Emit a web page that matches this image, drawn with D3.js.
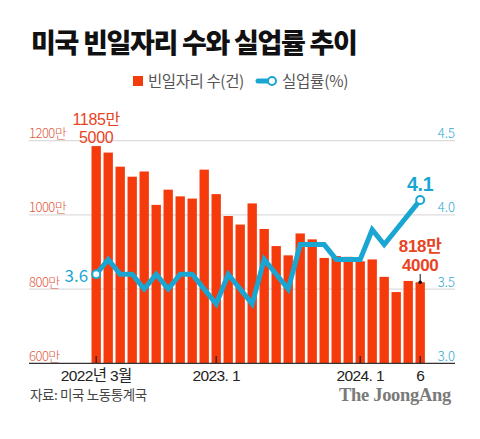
<!DOCTYPE html>
<html><head><meta charset="utf-8">
<script src="https://cdn.jsdelivr.net/npm/d3@7"></script>
<style>
html,body{margin:0;padding:0;background:#fff;}
svg{display:block;}
text{font-family:"Noto Sans CJK KR","Noto Sans",sans-serif;}
.num{font-family:"Liberation Sans","Noto Sans CJK KR",sans-serif;}
.brand{font-family:"Liberation Serif","DejaVu Serif",serif;}
</style></head>
<body>
<script>
const months = ["2022-03","2022-04","2022-05","2022-06","2022-07","2022-08","2022-09","2022-10","2022-11","2022-12",
"2023-01","2023-02","2023-03","2023-04","2023-05","2023-06","2023-07","2023-08","2023-09","2023-10","2023-11","2023-12",
"2024-01","2024-02","2024-03","2024-04","2024-05","2024-06"];
const openings = [1185.5,1168,1130,1103,1117,1027,1068,1050,1044,1122,1056,997,974,1031,962,916,891,950,934,884,889,887,875,880,833,792,822,818.4];
const unemployment = [3.6,3.7,3.6,3.6,3.5,3.6,3.5,3.6,3.6,3.5,3.4,3.6,3.5,3.4,3.7,3.6,3.5,3.8,3.8,3.8,3.7,3.7,3.7,3.9,3.8,3.9,4.0,4.1];
const leftTicks = [600,800,1000,1200];
const rightTicks = [3.0,3.5,4.0,4.5];
const xTickMonths = ["2022-03","2023-01","2024-01","2024-06"];
const xTickLabels = ["2022년 3월","2023. 1","2024. 1","6"];

const W=480,H=439;
const RED="#f53a0c", BLUE="#1aa6d3", LABELRED="#e8441f";
const svg=d3.select("body").append("svg").attr("width",W).attr("height",H);

const x=d3.scaleBand().domain(months).range([90.2,426.2]).paddingInner(0.22).paddingOuter(0.11);
const y=d3.scaleLinear().domain([600,1200]).range([363.3,140.7]);
const y2=d3.scaleLinear().domain([3.0,4.5]).range([363.3,140.7]);
const cx=m=>x(m)+x.bandwidth()/2;

// title
svg.append("text").attr("x",31).attr("y",53).attr("font-size",27).attr("font-weight",900)
  .attr("letter-spacing","-1.3").attr("fill","#111").text("미국 빈일자리 수와 실업률 추이");

// legend
svg.append("rect").attr("x",133).attr("y",76).attr("width",10).attr("height",10).attr("fill",RED);
svg.append("text").attr("x",148).attr("y",86.5).attr("font-size",15.5).attr("fill","#555").attr("letter-spacing","-0.4").text("빈일자리 수(건)");
svg.append("line").attr("x1",258).attr("x2",270).attr("y1",81).attr("y2",81).attr("stroke",BLUE).attr("stroke-width",5).attr("stroke-linecap","round");
svg.append("circle").attr("cx",272).attr("cy",81).attr("r",4).attr("fill","#fff").attr("stroke",BLUE).attr("stroke-width",2);
svg.append("text").attr("x",282).attr("y",86.5).attr("font-size",15.5).attr("fill","#555").attr("letter-spacing","-0.2").text("실업률(%)");

// grid
svg.append("g").selectAll("line").data(leftTicks.filter(d=>d>600)).join("line")
  .attr("x1",29).attr("x2",455).attr("y1",d=>y(d)).attr("y2",d=>y(d)).attr("stroke","#dcdcdc").attr("stroke-width",1.2);

// left labels
svg.append("g").selectAll("text").data(leftTicks).join("text")
  .attr("x",29).attr("y",d=>y(d)-2.5).attr("font-size",13).attr("font-weight",300).attr("fill","#e0583a")
  .attr("letter-spacing","-0.5").text(d=>d+"만");
// right labels
svg.append("g").selectAll("text").data(rightTicks).join("text")
  .attr("x",455).attr("y",d=>y2(d)-2.5).attr("text-anchor","end").attr("font-size",13).attr("font-weight",300).attr("fill","#2aa9d2")
  .text(d=>d.toFixed(1));

// bars
svg.append("g").selectAll("rect").data(openings).join("rect")
  .attr("x",(d,i)=>x(months[i])).attr("width",x.bandwidth())
  .attr("y",d=>y(d)).attr("height",d=>y(600)-y(d)).attr("fill",RED);

// axis line
svg.append("line").attr("x1",29).attr("x2",455).attr("y1",363.3).attr("y2",363.3).attr("stroke","#333").attr("stroke-width",1.2);
// ticks
svg.append("g").selectAll("line").data(xTickMonths).join("line")
  .attr("x1",d=>cx(d)).attr("x2",d=>cx(d)).attr("y1",356).attr("y2",363).attr("stroke","#222").attr("stroke-width",1.2);
svg.append("g").selectAll("text").data(xTickMonths).join("text").attr("class","num")
  .attr("x",d=>cx(d)).attr("y",380.5).attr("text-anchor","middle").attr("font-size",15.5).attr("fill","#222")
  .attr("letter-spacing","-0.6").text((d,i)=>xTickLabels[i]);

// line
const line=d3.line().x((d,i)=>cx(months[i])).y(d=>y2(d));
svg.append("path").datum(unemployment).attr("d",line).attr("fill","none").attr("stroke",BLUE)
  .attr("stroke-width",5).attr("stroke-linejoin","miter");
const last=unemployment.length-1;
[0,last].forEach(i=>{
  svg.append("circle").attr("cx",cx(months[i])).attr("cy",y2(unemployment[i])).attr("r",4)
    .attr("fill","#fff").attr("stroke",BLUE).attr("stroke-width",2);
});
svg.append("text").attr("x",cx(months[0])-8).attr("y",y2(unemployment[0])+7.5).attr("text-anchor","end")
  .attr("font-size",17).attr("fill",BLUE).text("3.6");
svg.append("text").attr("class","num").attr("x",cx(months[last])).attr("y",y2(unemployment[last])-9).attr("text-anchor","middle")
  .attr("font-size",19.5).attr("font-weight",700).attr("fill",BLUE).attr("letter-spacing","-0.3").text("4.1");

// bar annotations
const firstLbl=svg.append("text").attr("class","num").attr("text-anchor","middle").attr("font-size",16)
  .attr("fill",LABELRED).attr("letter-spacing","-0.3");
firstLbl.append("tspan").attr("x",cx(months[0])).attr("y",125).text("1185만");
firstLbl.append("tspan").attr("x",cx(months[0])).attr("y",143).text("5000");
const lx=cx(months[last]);
const lastLbl=svg.append("text").attr("class","num").attr("text-anchor","middle").attr("font-size",17).attr("font-weight",700)
  .attr("fill",LABELRED).attr("letter-spacing","-0.3");
lastLbl.append("tspan").attr("x",lx).attr("y",252).text("818만");
lastLbl.append("tspan").attr("x",lx).attr("y",271).text("4000");
svg.append("line").attr("x1",lx).attr("x2",lx).attr("y1",274).attr("y2",y(openings[last])).attr("stroke","#111").attr("stroke-width",1);
svg.append("circle").attr("cx",lx).attr("cy",y(openings[last])).attr("r",1.8).attr("fill","#111");

// footer
svg.append("text").attr("x",30).attr("y",400).attr("font-size",13.5).attr("fill","#444").attr("letter-spacing","-0.4").text("자료: 미국 노동통계국");
svg.append("text").attr("class","brand").attr("x",451).attr("y",401).attr("text-anchor","end").attr("font-size",18.5).attr("font-weight",700)
  .attr("fill","#7a7a7a").attr("letter-spacing","-0.3").text("The JoongAng");
</script>
</body></html>
